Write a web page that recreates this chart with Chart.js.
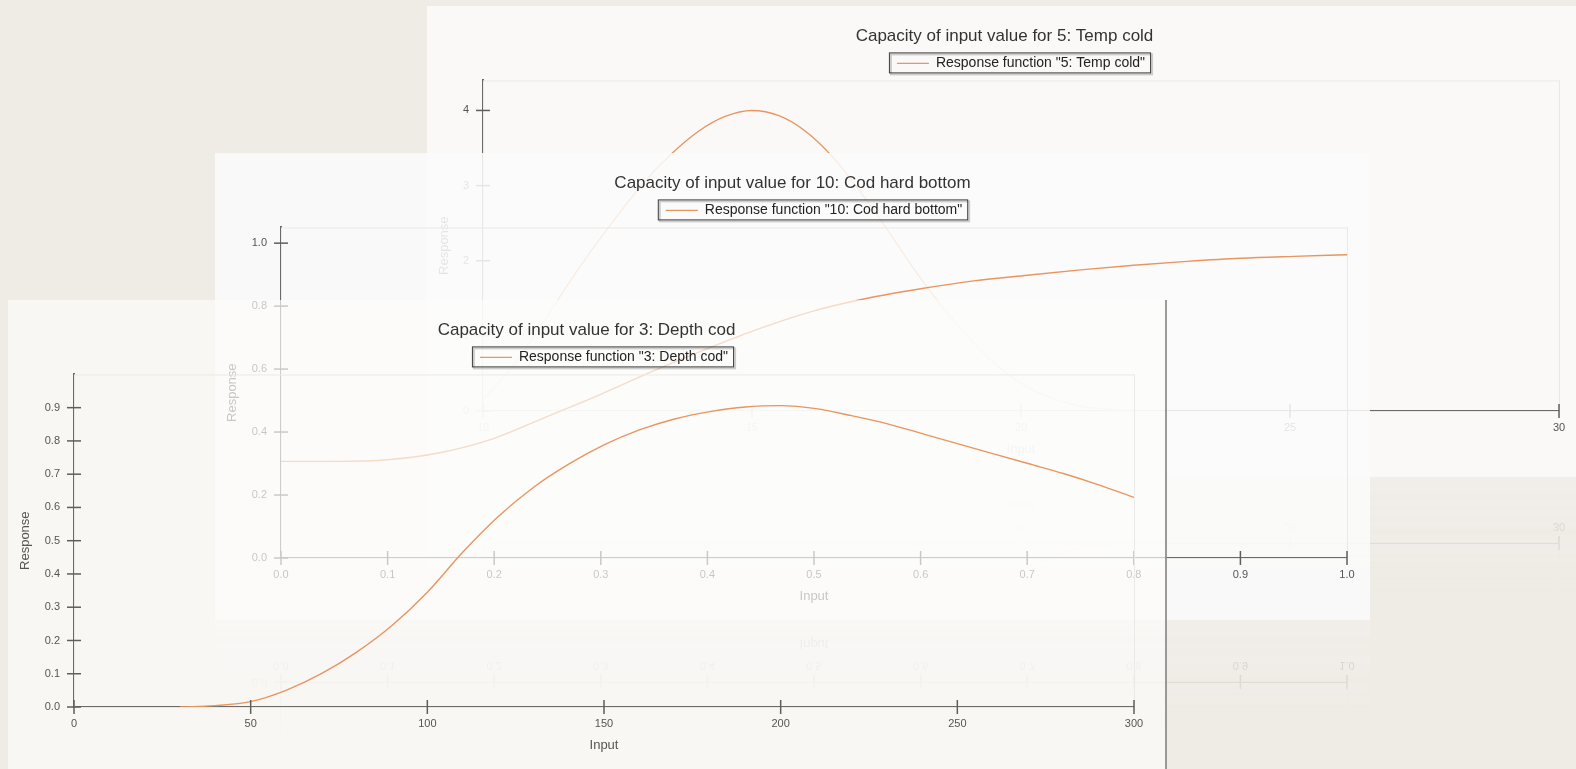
<!DOCTYPE html>
<html>
<head>
<meta charset="utf-8">
<script src="https://cdn.jsdelivr.net/npm/chart.js@4.4.1/dist/chart.umd.min.js"></script>
<style>
  html, body { margin: 0; padding: 0; }
  body {
    width: 1576px; height: 769px; overflow: hidden; position: relative;
    background: #efebe5;
  }
  .panel { position: absolute; overflow: hidden; }
  .panel canvas, .flip canvas { display: block; }
  .refl {
    position: absolute; overflow: hidden;
    -webkit-mask-image: linear-gradient(to bottom, rgba(0,0,0,0.24), rgba(0,0,0,0) 120px);
    mask-image: linear-gradient(to bottom, rgba(0,0,0,0.24), rgba(0,0,0,0) 120px);
  }
  .flip { position: absolute; left: 0; top: 0; transform: scaleY(-1); }
  #pC { border-right: 2px solid rgba(120,120,120,0.75); }
</style>
</head>
<body>
<div class="refl" id="rA"><div class="flip"><canvas></canvas></div></div>
<div class="panel" id="pA"><canvas></canvas></div>
<div class="refl" id="rB"><div class="flip"><canvas></canvas></div></div>
<div class="panel" id="pB"><canvas></canvas></div>
<div class="panel" id="pC"><canvas></canvas></div>

<script>
// 5: Temp cold
const TEMP_TITLE = "Capacity of input value for 5: Temp cold";
const TEMP_LEGEND = 'Response function "5: Temp cold"';
const TEMP_X = [10, 10.5, 11, 11.5, 12, 12.5, 13, 13.5, 14, 14.5, 15, 15.5, 16, 16.5, 17, 17.5, 18, 18.5, 19, 19.5, 20, 20.5, 21, 21.5, 22];
const TEMP_Y = [0.15, 0.55, 1.05, 1.6, 2.12, 2.6, 3.05, 3.42, 3.72, 3.92, 4.0, 3.93, 3.72, 3.38, 2.93, 2.43, 1.9, 1.42, 1.0, 0.64, 0.37, 0.19, 0.08, 0.03, 0];

// 10: Cod hard bottom
const COD_TITLE = "Capacity of input value for 10: Cod hard bottom";
const COD_LEGEND = 'Response function "10: Cod hard bottom"';
const COD_X = [0, 0.05, 0.1, 0.15, 0.2, 0.25, 0.3, 0.35, 0.4, 0.45, 0.5, 0.55, 0.6, 0.65, 0.7, 0.75, 0.8, 0.85, 0.9, 0.95, 1.0];
const COD_Y = [0.307, 0.307, 0.312, 0.335, 0.38, 0.45, 0.52, 0.595, 0.665, 0.73, 0.785, 0.825, 0.855, 0.88, 0.898, 0.915, 0.93, 0.942, 0.952, 0.958, 0.963];

// 3: Depth cod
const DEPTH_TITLE = "Capacity of input value for 3: Depth cod";
const DEPTH_LEGEND = 'Response function "3: Depth cod"';
const DEPTH_X = [30, 40, 50, 60, 70, 80, 90, 100, 110, 120, 130, 140, 150, 160, 170, 180, 190, 200, 210, 220, 230, 240, 250, 260, 270, 280, 290, 300];
const DEPTH_Y = [0, 0.004, 0.016, 0.05, 0.1, 0.165, 0.245, 0.345, 0.465, 0.572, 0.66, 0.73, 0.788, 0.833, 0.866, 0.888, 0.902, 0.906, 0.897, 0.876, 0.852, 0.822, 0.792, 0.762, 0.732, 0.702, 0.668, 0.63];

const X_TITLE = "Input";
const Y_TITLE = "Response";

const FONT = "'Liberation Sans', Arial, sans-serif";
const LINE = "#e8955f";
const AXIS = "#6a6a6a";

// plot frame, crossing tick marks and the box round the legend
const decor = {
  id: "decor",
  beforeDatasetsDraw(chart) {
    const a = chart.chartArea, ctx = chart.ctx;
    ctx.save();
    ctx.strokeStyle = "#e9e9e7";
    ctx.lineWidth = 1;
    ctx.strokeRect(a.left + 0.5, a.top + 0.5, a.right - a.left, a.bottom - a.top);
    ctx.restore();
  },
  afterDraw(chart) {
    const ctx = chart.ctx, a = chart.chartArea;
    ctx.save();
    ctx.strokeStyle = "#5e5e5e";
    ctx.lineWidth = 1.5;
    const xs = chart.scales.x, ys = chart.scales.y;
    xs.ticks.forEach((t, i) => {
      const px = xs.getPixelForTick(i);
      ctx.beginPath(); ctx.moveTo(px, a.bottom - 7); ctx.lineTo(px, a.bottom + 7); ctx.stroke();
    });
    ys.ticks.forEach((t, i) => {
      const py = ys.getPixelForTick(i);
      ctx.beginPath(); ctx.moveTo(a.left - 7, py); ctx.lineTo(a.left + 7, py); ctx.stroke();
    });
    const hb = chart.legend.legendHitBoxes[0];
    if (hb) {
      ctx.strokeStyle = "rgba(0,0,0,0.18)";
      ctx.lineWidth = 2;
      ctx.strokeRect(hb.left - 6, hb.top - 2, hb.width + 13, hb.height + 6);
      ctx.strokeStyle = "#3a3a3a";
      ctx.lineWidth = 1;
      ctx.strokeRect(hb.left - 7.5, hb.top - 3.5, hb.width + 13, hb.height + 6);
    }
    ctx.restore();
  }
};

const panels = [
  { id: "A", title: TEMP_TITLE, legend: TEMP_LEGEND, xs: TEMP_X, ys: TEMP_Y,
    xMin: 10, xMax: 30, xStep: 5, xDec: 0, yMax: 4.4, yStep: 1, yTop: 4, yDec: 0,
    left: 427, top: 6, w: 1155, h: 471, yw: 56, xh: 66, padRight: 23, alpha: 0.84, refl: 150 },
  { id: "B", title: COD_TITLE, legend: COD_LEGEND, xs: COD_X, ys: COD_Y,
    xMin: 0, xMax: 1, xStep: 0.1, xDec: 1, yMax: 1.05, yStep: 0.2, yTop: 1, yDec: 1,
    left: 215, top: 153, w: 1155, h: 467, yw: 66, xh: 62, padRight: 23, alpha: 0.86, refl: 120 },
  { id: "C", title: DEPTH_TITLE, legend: DEPTH_LEGEND, xs: DEPTH_X, ys: DEPTH_Y,
    xMin: 0, xMax: 300, xStep: 50, xDec: 0, yMax: 1, yStep: 0.1, yTop: 0.9, yDec: 1,
    left: 8, top: 300, w: 1157, h: 472, yw: 66, xh: 65, padRight: 31, alpha: 0.68, refl: 0 }
];

const makeChart = function (canvas, p) {
  canvas.width = p.w;
  canvas.height = p.h;
  return new Chart(canvas, {
    type: "line",
    data: {
      datasets: [
        {
          label: p.legend,
          data: p.xs.map((x, i) => ({ x: x, y: p.ys[i] })),
          borderColor: LINE,
          backgroundColor: LINE,
          borderWidth: 1.4,
          pointRadius: 0,
          tension: 0.4,
          cubicInterpolationMode: "monotone",
          fill: false,
        },
      ],
    },
    options: {
      responsive: false,
      animation: false,
      events: [],
      layout: { padding: { top: 8, right: 0, bottom: 0, left: 0 } },
      plugins: {
        title: {
          display: true, text: p.title, color: "#333",
          font: { family: FONT, size: 17, weight: "normal" },
          padding: { top: 12, bottom: 1 },
        },
        legend: {
          fullSize: false,
          labels: {
            usePointStyle: true, pointStyle: "line", pointStyleWidth: 32,
            color: "#222", font: { family: FONT, size: 14 }, padding: 9,
          },
        },
        tooltip: { enabled: false },
      },
      scales: {
        x: {
          type: "linear", min: p.xMin, max: p.xMax,
          grid: { display: false, drawTicks: false },
          border: { color: AXIS, width: 2 },
          ticks: {
            stepSize: p.xStep, padding: 10, maxRotation: 0, color: "#555",
            font: { family: FONT, size: 11 },
            callback: (v) => v.toFixed(p.xDec),
          },
          title: {
            display: true, text: X_TITLE, color: "#555",
            font: { family: FONT, size: 13 },
            padding: { top: 0, bottom: p.xh - 38 - 7.8 },
          },
          afterFit: (s) => { s.height = p.xh; },
        },
        y: {
          min: 0, max: p.yMax,
          grid: { display: false, drawTicks: false },
          border: { color: AXIS, width: 2 },
          ticks: {
            stepSize: p.yStep, padding: 14, includeBounds: false, color: "#555",
            font: { family: FONT, size: 11 },
            callback: (v) => v.toFixed(p.yDec),
          },
          afterBuildTicks: (s) => { s.ticks = s.ticks.filter((t) => t.value <= p.yTop + 1e-9); },
          title: {
            display: true, text: Y_TITLE, color: "#555",
            font: { family: FONT, size: 13 },
            padding: { top: 10, bottom: 0 },
          },
          afterFit: (s) => { s.width = p.yw; },
        },
        // empty right-hand strip, keeps the title centred on the whole panel
        pad: {
          type: "linear", position: "right",
          grid: { display: false, drawTicks: false },
          border: { display: false },
          ticks: { display: false },
          afterFit: (s) => { s.width = p.padRight; },
        },
      },
    },
    plugins: [decor],
  });
};

panels.forEach((p) => {
  const bg = "rgba(252,252,251," + p.alpha + ")";
  const el = document.getElementById("p" + p.id);
  Object.assign(el.style, { left: p.left + "px", top: p.top + "px", width: p.w + "px", height: p.h + "px", background: bg });
  makeChart(el.querySelector("canvas"), p);

  // mirrored copy under the panel
  const r = document.getElementById("r" + p.id);
  if (r && p.refl) {
    Object.assign(r.style, { left: p.left + "px", top: p.top + p.h + "px", width: p.w + "px", height: p.refl + "px" });
    const f = r.querySelector(".flip");
    Object.assign(f.style, { width: p.w + "px", height: p.h + "px", background: bg });
    makeChart(f.querySelector("canvas"), p);
  }
});
</script>
</body>
</html>
